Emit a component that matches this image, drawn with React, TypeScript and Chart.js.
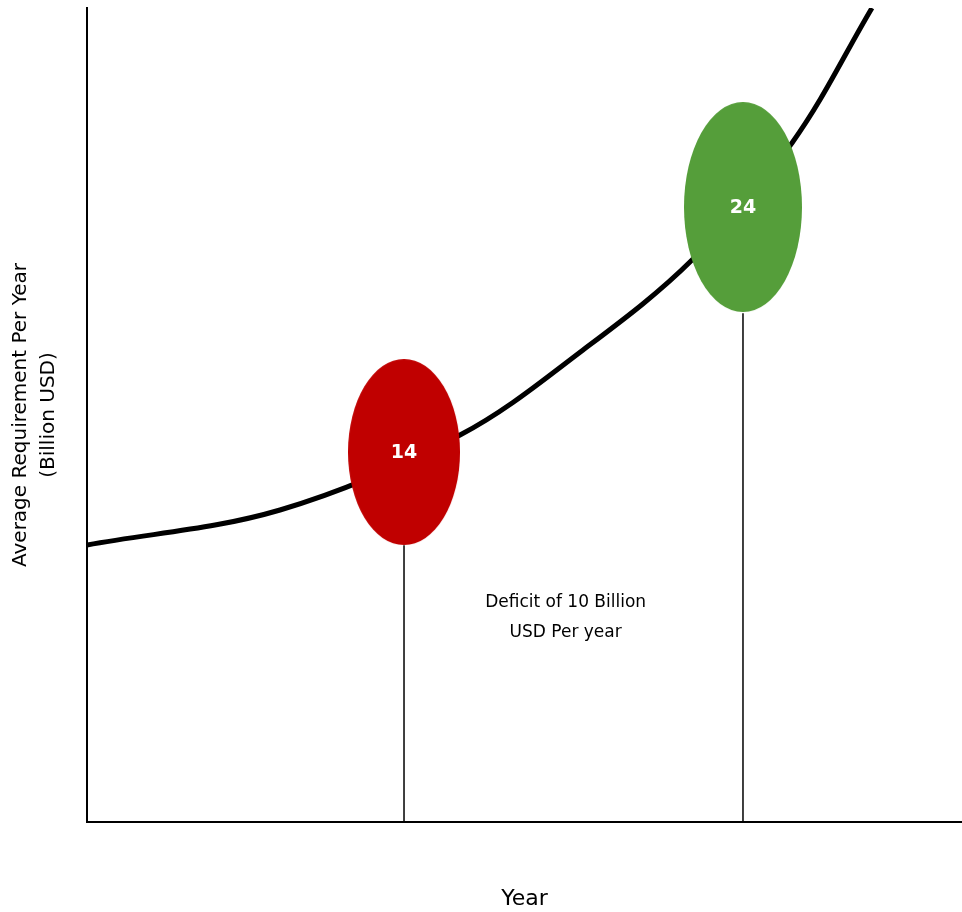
import React, { useEffect, useRef } from "react";
import { Chart, registerables } from "chart.js";

Chart.register(...registerables);

// Curve: average requirement per year (arbitrary scale units)
const curveX = [0, 22.06, 42.63, 56.69, 69.14, 80.57, 89.71];
const curveY = [34.03, 38.33, 47.54, 57.99, 69.04, 83.42, 100];

// Markers (ellipses) with their labels
const markerX = [36.23, 74.97];
const markerY = [45.45, 75.55];
const markerBottom = [34.0, 62.5];
const markerLabels = ["14", "24"];
const markerColors = ["#C00000", "#559E3A"];

const yTitle = ["Average Requirement Per Year", "(Billion USD)"];
const xTitle = "Year";
const noteLines = ["Deficit of 10 Billion", "USD Per year"];
const noteAnchor = { x: 54.7, y: 26.9, y2: 23.3 };

const FONT = "'DejaVu Sans', sans-serif";

function makeEllipse(color: string, w: number, h: number) {
  const c = document.createElement("canvas");
  c.width = w;
  c.height = h;
  const ctx = c.getContext("2d")!;
  ctx.fillStyle = color;
  ctx.beginPath();
  ctx.ellipse(w / 2, h / 2, w / 2, h / 2, 0, 0, Math.PI * 2);
  ctx.fill();
  return c;
}

export default function App() {
  const ref = useRef<HTMLCanvasElement | null>(null);

  useEffect(() => {
    document.documentElement.style.overflow = "hidden";
    document.body.style.margin = "0";
    document.body.style.overflow = "hidden";
    if (!ref.current) return;
    const styles = [makeEllipse(markerColors[0], 112, 186), makeEllipse(markerColors[1], 118, 210)];

    const labelPlugin = {
      id: "labels",
      afterDatasetsDraw(chart: any) {
        const { ctx, scales } = chart;
        const xs = scales.x;
        const ys = scales.y;
        ctx.save();
        ctx.textAlign = "center";
        ctx.textBaseline = "middle";
        ctx.fillStyle = "#ffffff";
        ctx.font = `bold 19px ${FONT}`;
        markerLabels.forEach((l, i) => {
          ctx.fillText(l, xs.getPixelForValue(markerX[i]), ys.getPixelForValue(markerY[i]) + 1);
        });
        ctx.fillStyle = "#000000";
        ctx.font = `17px ${FONT}`;
        ctx.fillText(noteLines[0], xs.getPixelForValue(noteAnchor.x), ys.getPixelForValue(noteAnchor.y));
        ctx.fillText(noteLines[1], xs.getPixelForValue(noteAnchor.x), ys.getPixelForValue(noteAnchor.y2));
        ctx.restore();
      },
    };

    const drops = markerX.map((x, i) => ({
      type: "line" as const,
      data: [
        { x, y: 0 },
        { x, y: markerBottom[i] },
      ],
      borderColor: "#000000",
      borderWidth: 1.5,
      pointRadius: 0,
      order: 3,
    }));

    const chart = new Chart(ref.current, {
      type: "line",
      data: {
        datasets: [
          {
            type: "line",
            data: markerX.map((x, i) => ({ x, y: markerY[i] })),
            showLine: false,
            pointStyle: styles as any,
            pointRadius: 10,
            order: 0,
          },
          {
            type: "line",
            data: curveX.map((x, i) => ({ x, y: curveY[i] })),
            borderColor: "#000000",
            borderWidth: 5,
            pointRadius: 0,
            tension: 0.35,
            order: 1,
          },
          ...drops,
        ] as any,
      },
      options: {
        animation: false,
        responsive: true,
        maintainAspectRatio: false,
        layout: { autoPadding: false, padding: { left: 0, top: 8, right: 0, bottom: 0 } },
        plugins: { legend: { display: false }, tooltip: { enabled: false } },
        scales: {
          x: {
            type: "linear",
            min: 0,
            max: 100,
            grid: { display: false },
            ticks: { display: false },
            border: { color: "#000000", width: 2 },
            title: {
              display: true,
              text: xTitle,
              color: "#000000",
              font: { family: FONT, size: 22, lineHeight: 1.2 },
              padding: { top: 0, bottom: 0 },
            },
            afterFit: (s: any) => {
              s.height = 90;
            },
          },
          y: {
            type: "linear",
            min: 0,
            max: 100,
            grid: { display: false },
            ticks: { display: false },
            border: { color: "#000000", width: 2 },
            title: {
              display: true,
              text: yTitle,
              color: "#000000",
              font: { family: FONT, size: 20, lineHeight: 28 / 20 },
              padding: { top: 7, bottom: 0 },
            },
            afterFit: (s: any) => {
              s.width = 87;
            },
          },
        },
      },
      plugins: [labelPlugin],
    });
    return () => chart.destroy();
  }, []);

  return (
    <div style={{ position: "fixed", left: 0, top: 0, right: 0, height: 912, background: "#fff" }}>
      <canvas ref={ref} />
    </div>
  );
}
